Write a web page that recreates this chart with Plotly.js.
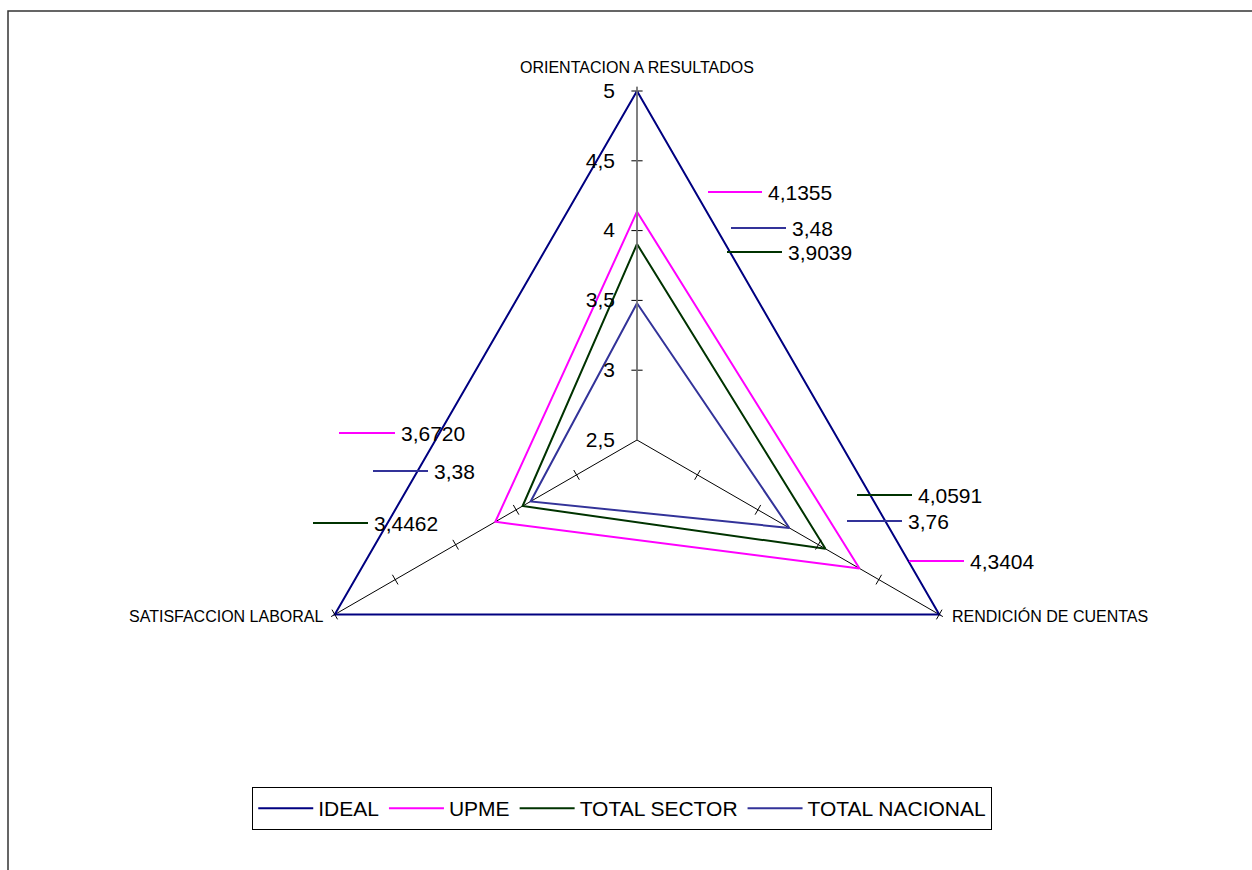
<!DOCTYPE html>
<html>
<head>
<meta charset="utf-8">
<script src="https://cdn.plot.ly/plotly-3.0.1.min.js"></script>
<style>html,body{margin:0;padding:0;background:#fff;}#chart{width:1252px;height:870px;}</style>
</head>
<body>
<div id="chart"></div>
<script>
// ---- data ----
const categories = ["ORIENTACION A RESULTADOS", "RENDICIÓN DE CUENTAS", "SATISFACCION LABORAL"];
const seriesNames = ["IDEAL", "UPME", "TOTAL SECTOR", "TOTAL NACIONAL"];
const ideal = [5, 5, 5];
const upme = [4.1355, 4.3404, 3.6720];
const totalSector = [3.9039, 4.0591, 3.4462];
const totalNacional = [3.48, 3.76, 3.38];
const radialTicks = [2.5, 3, 3.5, 4, 4.5, 5];
const labelDecimals = [0, 4, 4, 2];

// ---- styles ----
const colors = ["#000080", "#FF00FF", "#003300", "#333399"];
const FONT = "Liberation Sans, Arial, sans-serif";
const W = 1252, H = 870;
const px = x => x / W;
const py = y => 1 - y / H;
const RMAX = 5.03;               // a little headroom so the outer polygon is not clipped
const CX = 637, CY = 440, R5 = 349;
const RAD = R5 * (RMAX - 2.5) / 2.5;

const allSeries = [ideal, upme, totalSector, totalNacional];
const traces = [];
allSeries.forEach((vals, i) => {
  traces.push({
    type: "scatterpolar",
    mode: "lines",
    r: vals.concat([vals[0]]),
    theta: categories.concat([categories[0]]),
    name: seriesNames[i],
    cliponaxis: false,
    line: {color: colors[i], width: 2},
    hoverinfo: "skip"
  });
});

// tick marks along the three spokes
const tickR = [], tickT = [], tickA = [];
const spokeAngles = [90, 30, -30];
categories.forEach((c, k) => {
  radialTicks.slice(1).forEach(v => { tickR.push(v); tickT.push(c); tickA.push(spokeAngles[k]); });
});
traces.push({
  type: "scatterpolar", mode: "markers", r: tickR, theta: tickT, showlegend: false, hoverinfo: "skip",
  cliponaxis: false,
  marker: {symbol: "line-ns", size: 8, angle: tickA, color: "#000", line: {color: "#000", width: 1}}
});

// value label placement (layout, in pixels): [lineX0, lineX1, y] per category per series
const labelPos = {
  1: [[708, 762, 192], [909, 964, 561], [339, 395, 433]],
  2: [[727, 782, 252], [857, 912, 495], [313, 368, 523]],
  3: [[731, 786, 228], [847, 902, 521], [373, 428, 471]]
};
// category label placement (layout, in pixels): [x, y, anchor]
const catPos = [[637, 67, "center"], [950, 616, "left"], [326, 616, "right"]];

const shapes = [{
  type: "rect", xref: "paper", yref: "paper",
  x0: px(8), x1: 1.05, y0: -0.05, y1: py(11),
  line: {color: "#333", width: 1.5}
}];
const annotations = [];
[1, 2, 3].forEach(i => {
  allSeries[i].forEach((v, k) => {
    const p = labelPos[i][k];
    shapes.push({type: "line", xref: "paper", yref: "paper", x0: px(p[0]), x1: px(p[1]), y0: py(p[2]), y1: py(p[2]),
      line: {color: colors[i], width: 2}});
    annotations.push({xref: "paper", yref: "paper", x: px(p[1] + 4), y: py(p[2]), xanchor: "left", yanchor: "middle",
      showarrow: false, text: v.toFixed(labelDecimals[i]).replace(".", ","),
      font: {family: FONT, size: 21, color: "#000"}});
  });
});
categories.forEach((c, k) => {
  const p = catPos[k];
  annotations.push({xref: "paper", yref: "paper", x: px(p[0]), y: py(p[1]), xanchor: p[2], yanchor: "middle",
    showarrow: false, text: c, font: {family: FONT, size: 16, color: "#000"}});
});

const layout = {
  width: W, height: H,
  margin: {l: 0, r: 0, t: 0, b: 0},
  paper_bgcolor: "#fff",
  separators: ",.",
  showlegend: true,
  polar: {
    domain: {x: [px(CX - RAD), px(CX + RAD)], y: [py(CY + RAD), py(CY - RAD)]},
    bgcolor: "rgba(0,0,0,0)",
    gridshape: "linear",
    radialaxis: {
      range: [2.5, RMAX], angle: 90, side: "counterclockwise", tickangle: 90,
      tickvals: radialTicks, ticks: "outside", ticklen: 14, tickcolor: "rgba(0,0,0,0)", showgrid: false,
      showline: true, linecolor: "#808080", linewidth: 1.5,
      tickfont: {family: FONT, size: 21, color: "#000"}
    },
    angularaxis: {
      rotation: 90, direction: "clockwise", type: "category", showticklabels: false,
      showline: false, showgrid: true, gridcolor: "#000", gridwidth: 1, ticks: ""
    }
  },
  legend: {
    orientation: "h", x: 0.497, xanchor: "center", y: py(787), yanchor: "top",
    bordercolor: "#000", borderwidth: 1, bgcolor: "#fff",
    font: {family: FONT, size: 21, color: "#000"}, itemwidth: 55
  },
  shapes: shapes,
  annotations: annotations
};

Plotly.newPlot("chart", traces, layout, {displayModeBar: false, staticPlot: true});
</script>
</body>
</html>
